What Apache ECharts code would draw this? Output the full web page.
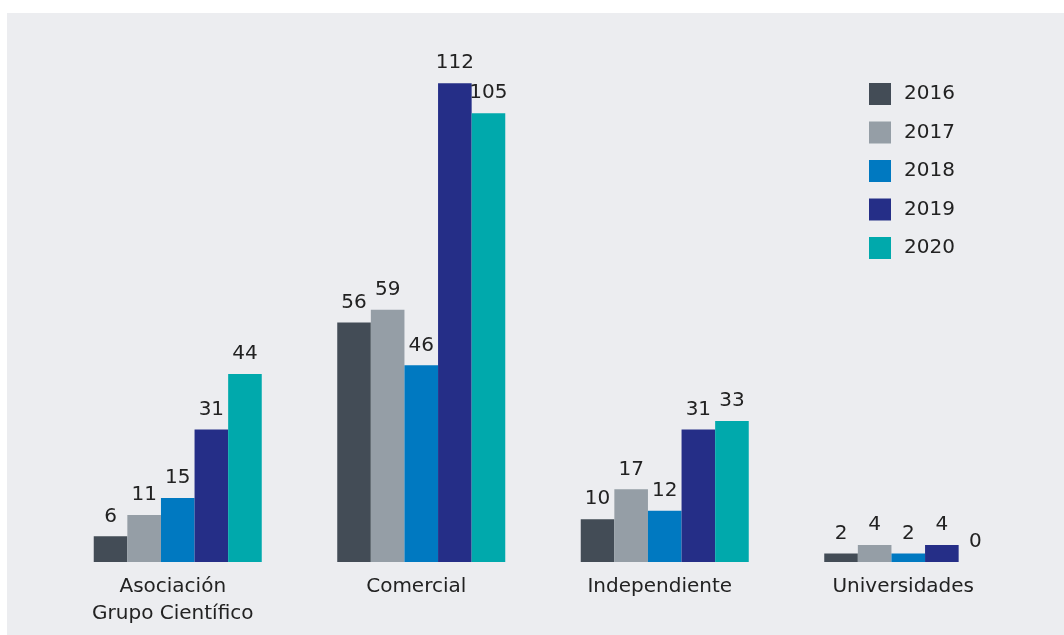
<!DOCTYPE html>
<html>
<head>
<meta charset="utf-8">
<script src="https://cdn.jsdelivr.net/npm/echarts@6/dist/echarts.min.js"></script>
<style>
html,body{margin:0;padding:0;background:#ffffff;}
#bg{position:absolute;left:7px;top:13px;width:1057px;height:622px;background:#ecedf0;}
#chart{position:absolute;left:0;top:0;width:1064px;height:635px;}
</style>
</head>
<body>
<div id="bg"></div>
<div id="chart"></div>
<script>
const categories = ['Asociación\nGrupo Científico', 'Comercial', 'Independiente', 'Universidades'];
const years = ['2016', '2017', '2018', '2019', '2020'];
const v2016 = [6, 56, 10, 2];
const v2017 = [11, 59, 17, 4];
const v2018 = [15, 46, 12, 2];
const v2019 = [31, 112, 31, 4];
const v2020 = [44, 105, 33, 0];
const colors = ['#434c56', '#959ea6', '#0079c1', '#252e87', '#00a9ac'];
const allValues = [v2016, v2017, v2018, v2019, v2020];

const chart = echarts.init(document.getElementById('chart'));
const fontFamily = 'DejaVu Sans';
chart.setOption({
  backgroundColor: 'transparent',
  textStyle: { fontFamily: fontFamily },
  legend: {
    orient: 'vertical',
    left: 869,
    top: 83,
    padding: 0,
    itemWidth: 22,
    itemHeight: 22,
    itemGap: 16.5,
    icon: 'rect',
    textStyle: { fontSize: 20, color: '#222', fontFamily: fontFamily, padding: [0, 0, 0, 8] },
    data: years
  },
  grid: { left: 56, right: 34, top: 49, bottom: 73 },
  xAxis: {
    type: 'category',
    data: categories,
    axisLine: { show: false },
    axisTick: { show: false },
    axisLabel: { fontSize: 20, color: '#222', margin: 11, lineHeight: 27, fontFamily: fontFamily, padding: [0, 10, 0, 0] }
  },
  yAxis: { type: 'value', min: 0, max: 120, show: false, splitLine: { show: false } },
  series: years.map((y, i) => ({
    name: y,
    type: 'bar',
    data: allValues[i],
    barGap: '0%',
    barCategoryGap: '31%',
    itemStyle: { color: colors[i] },
    label: { show: true, position: 'top', distance: 10, fontSize: 20, color: '#222', fontFamily: fontFamily }
  }))
});
</script>
</body>
</html>
